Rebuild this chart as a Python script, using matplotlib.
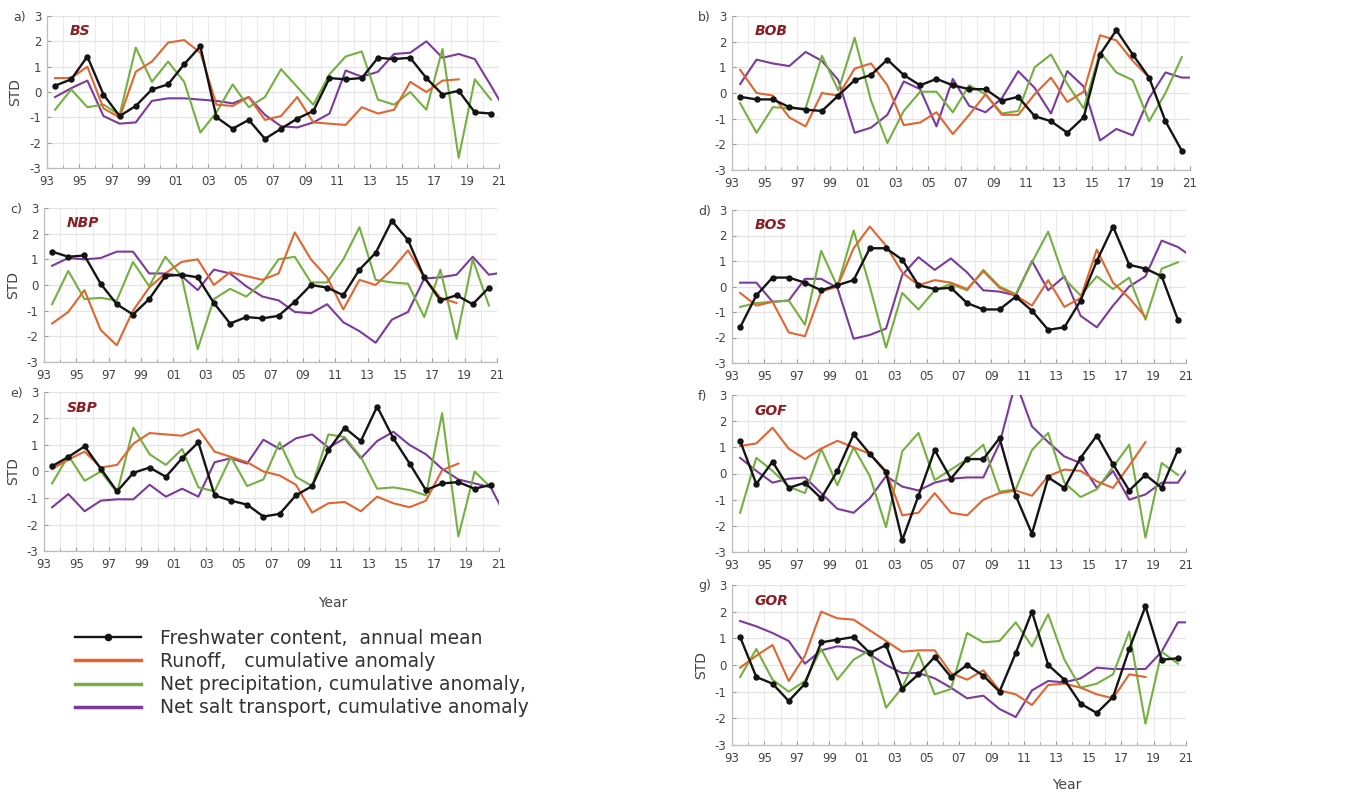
import numpy as np
import matplotlib
matplotlib.use("Agg")
import matplotlib.pyplot as plt
from matplotlib.lines import Line2D
from matplotlib.ticker import FuncFormatter, FixedLocator, MultipleLocator

plt.rcParams["axes.unicode_minus"] = False

# ---- data: standardized anomalies (STD), one value per year 1993-2020 ----
years = np.arange(1993, 2021)          # annual means, plotted at mid-year
runoff_years = np.arange(1993, 2019)   # runoff series ends in 2018
salt_years = np.arange(1993, 2022)     # salt transport runs to the end of the axis
tick_years = np.arange(1993, 2022, 2)

regions = ["BS", "BOB", "NBP", "BOS", "SBP", "GOF", "GOR"]
panel_letters = ["a)", "b)", "c)", "d)", "e)", "f)", "g)"]

fwc_bs = [0.25, 0.5, 1.4, -0.1, -0.95, -0.55, 0.1, 0.3, 1.1, 1.8, -1.0, -1.45, -1.1, -1.85,
          -1.45, -1.05, -0.75, 0.55, 0.5, 0.55, 1.35, 1.3, 1.35, 0.55, -0.1, 0.05, -0.8, -0.85]
run_bs = [0.55, 0.55, 1.0, -0.65, -1.0, 0.8, 1.2, 1.95, 2.05, 1.55, -0.5, -0.55, -0.2, -1.1,
          -0.95, -0.2, -1.2, -1.25, -1.3, -0.6, -0.85, -0.7, 0.4, 0.0, 0.45, 0.5]
prc_bs = [-0.7, 0.1, -0.6, -0.5, -0.9, 1.75, 0.4, 1.2, 0.4, -1.6, -0.8, 0.3, -0.6, -0.2,
          0.9, 0.2, -0.5, 0.7, 1.4, 1.6, -0.3, -0.5, 0.0, -0.7, 1.7, -2.6, 0.5, -0.3]
slt_bs = [-0.2, 0.15, 0.45, -0.95, -1.25, -1.2, -0.35, -0.25, -0.25, -0.3, -0.35, -0.45,
          -0.2, -0.9, -1.35, -1.4, -1.2, -0.85, 0.85, 0.6, 0.8, 1.5, 1.55, 2.0, 1.35, 1.5,
          1.3, 0.25, -0.85]

fwc_bob = [-0.15, -0.25, -0.25, -0.55, -0.65, -0.7, -0.1, 0.5, 0.7, 1.3, 0.7, 0.3, 0.55, 0.3,
           0.15, 0.15, -0.3, -0.15, -0.9, -1.1, -1.55, -0.95, 1.5, 2.45, 1.5, 0.6, -1.1, -2.25]
run_bob = [0.9, 0.0, -0.1, -0.95, -1.3, 0.0, -0.1, 0.95, 1.15, 0.3, -1.25, -1.15, -0.75,
           -1.6, -0.85, -0.05, -0.85, -0.85, -0.05, 0.6, -0.35, 0.05, 2.25, 2.05, 1.25, 0.6]
prc_bob = [-0.4, -1.55, -0.55, -0.6, -0.6, 1.45, 0.1, 2.15, -0.3, -1.95, -0.7, 0.05, 0.05,
           -0.75, 0.3, -0.05, -0.8, -0.7, 1.0, 1.5, 0.35, -0.6, 1.6, 0.8, 0.5, -1.1, 0.0, 1.4]
slt_bob = [0.35, 1.3, 1.15, 1.05, 1.6, 1.25, 0.5, -1.55, -1.35, -0.85, 0.45, 0.15, -1.3,
           0.55, -0.5, -0.75, -0.2, 0.85, 0.2, -0.8, 0.85, 0.25, -1.85, -1.4, -1.65, -0.2,
           0.8, 0.6, 0.6]

fwc_nbp = [1.3, 1.1, 1.15, 0.05, -0.75, -1.15, -0.55, 0.35, 0.4, 0.3, -0.7, -1.5, -1.25, -1.3,
           -1.2, -0.65, 0.0, -0.1, -0.4, 0.6, 1.25, 2.5, 1.75, 0.3, -0.6, -0.4, -0.75, -0.1]
run_nbp = [-1.5, -1.05, -0.2, -1.75, -2.35, -1.0, -0.1, 0.45, 0.9, 1.0, 0.0, 0.5, 0.35, 0.2,
           0.45, 2.05, 1.0, 0.3, -0.95, 0.2, 0.0, 0.6, 1.35, 0.3, -0.5, -0.7]
prc_nbp = [-0.75, 0.55, -0.55, -0.5, -0.6, 0.9, -0.05, 1.1, 0.35, -2.5, -0.55, -0.15, -0.45,
           0.1, 1.0, 1.1, 0.1, 0.1, 1.0, 2.25, 0.2, 0.1, 0.05, -1.25, 0.6, -2.1, 1.0, -0.8]
slt_nbp = [0.75, 1.05, 1.0, 1.05, 1.3, 1.3, 0.45, 0.45, 0.35, -0.2, 0.6, 0.45, -0.05, -0.45,
           -0.6, -1.05, -1.1, -0.75, -1.45, -1.8, -2.25, -1.35, -1.05, 0.25, 0.3, 0.4, 1.1,
           0.4, 0.5]

fwc_bos = [-1.6, -0.35, 0.35, 0.35, 0.15, -0.15, 0.05, 0.25, 1.5, 1.5, 1.05, 0.05, -0.1, -0.05,
           -0.65, -0.9, -0.9, -0.4, -0.95, -1.7, -1.6, -0.55, 1.0, 2.35, 0.85, 0.7, 0.4, -1.3]
run_bos = [-0.25, -0.75, -0.6, -1.8, -1.95, -0.2, 0.0, 1.5, 2.35, 1.6, 0.55, 0.05, 0.25, 0.15,
           -0.1, 0.6, -0.05, -0.35, -0.75, 0.25, -0.8, -0.45, 1.45, 0.15, -0.45, -1.2]
prc_bos = [-0.8, -0.65, -0.6, -0.55, -1.5, 1.4, 0.0, 2.2, 0.0, -2.4, -0.25, -0.9, -0.15, 0.1,
           -0.15, 0.65, 0.0, -0.3, 0.95, 2.15, 0.3, -0.35, 0.4, -0.1, 0.35, -1.3, 0.7, 0.95]
slt_bos = [0.15, 0.15, -0.6, -0.55, 0.3, 0.3, -0.05, -2.05, -1.9, -1.65, 0.45, 1.15, 0.65,
           1.1, 0.55, -0.15, -0.2, -0.35, 1.0, -0.15, 0.4, -1.15, -1.6, -0.75, 0.0, 0.4, 1.8,
           1.55, 1.1]

fwc_sbp = [0.2, 0.55, 0.95, 0.1, -0.75, -0.05, 0.15, -0.2, 0.5, 1.1, -0.9, -1.1, -1.25, -1.7,
           -1.6, -0.9, -0.55, 0.8, 1.65, 1.15, 2.45, 1.25, 0.3, -0.7, -0.45, -0.4, -0.65, -0.5]
run_sbp = [0.1, 0.45, 0.75, 0.15, 0.25, 1.05, 1.45, 1.4, 1.35, 1.6, 0.75, 0.55, 0.35, 0.0,
           -0.15, -0.5, -1.55, -1.2, -1.15, -1.5, -0.95, -1.2, -1.35, -1.1, 0.05, 0.3]
prc_sbp = [-0.45, 0.6, -0.35, 0.0, -0.8, 1.65, 0.65, 0.25, 0.85, -0.6, -0.75, 0.55, -0.55,
           -0.3, 1.1, -0.2, -0.55, 1.4, 1.3, 0.55, -0.65, -0.6, -0.7, -0.9, 2.2, -2.45, 0.0, -0.6]
slt_sbp = [-1.35, -0.85, -1.5, -1.1, -1.05, -1.05, -0.5, -0.95, -0.65, -0.95, 0.35, 0.5, 0.3,
           1.2, 0.85, 1.25, 1.4, 0.9, 1.25, 0.5, 1.15, 1.5, 1.0, 0.65, 0.1, -0.3, -0.45, -0.6,
           -1.8]

fwc_gof = [1.25, -0.4, 0.45, -0.55, -0.35, -0.95, 0.1, 1.5, 0.75, 0.05, -2.55, -0.85, 0.9, -0.2,
           0.55, 0.55, 1.35, -0.85, -2.3, -0.15, -0.55, 0.6, 1.45, 0.35, -0.65, -0.05, -0.55, 0.9]
run_gof = [1.05, 1.15, 1.75, 0.95, 0.55, 0.95, 1.25, 1.0, 0.75, 0.1, -1.6, -1.5, -0.75, -1.5,
           -1.6, -1.0, -0.75, -0.65, -0.85, -0.1, 0.15, 0.1, -0.3, -0.55, 0.3, 1.2]
prc_gof = [-1.5, 0.6, 0.1, -0.5, -0.75, 0.95, -0.45, 1.0, -0.1, -2.05, 0.85, 1.55, -0.25, 0.15,
           0.55, 1.1, -0.7, -0.6, 0.9, 1.55, -0.35, -0.9, -0.6, 0.25, 1.1, -2.45, 0.4, -0.05]
slt_gof = [0.6, 0.1, -0.35, -0.2, -0.15, -0.75, -1.35, -1.5, -0.95, -0.1, -0.5, -0.65, -0.35,
           -0.2, -0.15, -0.15, 1.15, 3.5, 1.8, 1.2, 0.65, 0.4, -0.55, 0.1, -1.0, -0.8, -0.35,
           -0.35, 0.55]

fwc_gor = [1.05, -0.45, -0.7, -1.35, -0.7, 0.85, 0.95, 1.05, 0.45, 0.75, -0.9, -0.35, 0.3, -0.45,
           0.0, -0.4, -1.0, 0.45, 2.0, 0.0, -0.55, -1.45, -1.8, -1.2, 0.6, 2.2, 0.2, 0.25]
run_gor = [-0.1, 0.35, 0.75, -0.6, 0.35, 2.0, 1.75, 1.7, 1.3, 0.9, 0.5, 0.55, 0.55, -0.3,
           -0.55, -0.2, -0.95, -1.1, -1.5, -0.75, -0.7, -0.85, -1.1, -1.25, -0.35, -0.45]
prc_gor = [-0.45, 0.6, -0.55, -1.0, -0.6, 0.6, -0.55, 0.2, 0.55, -1.6, -0.85, 0.45, -1.1, -0.9,
           1.2, 0.85, 0.9, 1.6, 0.7, 1.9, 0.2, -0.85, -0.7, -0.35, 1.25, -2.2, 0.5, 0.05]
slt_gor = [1.65, 1.45, 1.2, 0.9, 0.05, 0.55, 0.7, 0.65, 0.4, 0.0, -0.3, -0.3, -0.5, -0.85,
           -1.25, -1.15, -1.65, -1.95, -0.95, -0.6, -0.65, -0.5, -0.1, -0.15, -0.15, -0.15,
           0.5, 1.6, 1.6]

fwc = [fwc_bs, fwc_bob, fwc_nbp, fwc_bos, fwc_sbp, fwc_gof, fwc_gor]
runoff = [run_bs, run_bob, run_nbp, run_bos, run_sbp, run_gof, run_gor]
precip = [prc_bs, prc_bob, prc_nbp, prc_bos, prc_sbp, prc_gof, prc_gor]
salt = [slt_bs, slt_bob, slt_nbp, slt_bos, slt_sbp, slt_gof, slt_gor]

legend_labels = ["Freshwater content,  annual mean",
                 "Runoff,   cumulative anomaly",
                 "Net precipitation, cumulative anomaly,",
                 "Net salt transport, cumulative anomaly"]

# ---- styling ----
C_FWC = "#141414"
C_RUN = "#e2652f"
C_PRC = "#74b040"
C_SLT = "#7b3a9c"
C_REGION = "#8c1c24"
C_TEXT = "#444444"
W, H = 1359, 794

# axes boxes in pixels: (left, top, right, bottom)
boxes = [(47, 16, 499, 168), (732, 16, 1190, 170),
         (44, 208, 497, 362), (732, 210, 1186, 363),
         (44, 392, 499, 551), (732, 395, 1186, 552),
         (732, 585, 1186, 745)]
with_std = [True, False, True, False, True, False, True]

fig = plt.figure(figsize=(W / 100, H / 100), dpi=100)


def px_axes(l, t, r, b):
    return fig.add_axes([l / W, 1 - b / H, (r - l) / W, (b - t) / H])


for k, (l, t, r, b) in enumerate(boxes):
    ax = px_axes(l, t, r, b)
    ax.plot(salt_years + 0.5, salt[k], color=C_SLT, lw=1.5, zorder=3)
    ax.plot(years + 0.5, precip[k], color=C_PRC, lw=1.5, zorder=3)
    ax.plot(runoff_years + 0.5, runoff[k], color=C_RUN, lw=1.5, zorder=3)
    ax.plot(years + 0.5, fwc[k], color=C_FWC, lw=1.7, marker="o", ms=3.6, zorder=4)

    ax.set_xlim(1993, 2021)
    ax.set_ylim(-3, 3)
    ax.xaxis.set_major_locator(FixedLocator(tick_years))
    ax.xaxis.set_minor_locator(MultipleLocator(1))
    ax.xaxis.set_major_formatter(FuncFormatter(lambda v, p: f"{int(round(v)) % 100:02d}"))
    ax.yaxis.set_major_locator(MultipleLocator(1))
    ax.grid(True, which="major", axis="y", color="#e4e4e4", lw=0.9)
    ax.grid(True, which="both", axis="x", color="#ececec", lw=0.8)
    ax.set_axisbelow(True)
    for s in ("top", "right"):
        ax.spines[s].set_visible(False)
    for s in ("left", "bottom"):
        ax.spines[s].set_color("#bdbdbd")
        ax.spines[s].set_linewidth(0.9)
    ax.tick_params(which="both", direction="in", colors="#9a9a9a", length=3,
                   labelcolor=C_TEXT, labelsize=8.5, pad=4)
    ax.tick_params(axis="x", which="major", pad=5)
    ax.tick_params(which="minor", length=2)

    ax.text(0.05, 0.9, regions[k], transform=ax.transAxes, fontsize=10,
            fontweight="bold", fontstyle="italic", color=C_REGION, va="center")
    fig.text((l - 34) / W, 1 - (t + 1) / H, panel_letters[k], fontsize=9,
             color=C_TEXT, va="center", ha="left")
    if with_std[k]:
        ax.set_ylabel("STD", fontsize=10, color=C_TEXT, labelpad=5)

fig.text(333 / W, 1 - 603 / H, "Year", fontsize=10, color=C_TEXT, ha="center", va="center")
fig.text(1067 / W, 1 - 785 / H, "Year", fontsize=10, color=C_TEXT, ha="center", va="center")

handles = [Line2D([], [], color=C_FWC, lw=1.7, marker="o", ms=4.5),
           Line2D([], [], color=C_RUN, lw=2.5),
           Line2D([], [], color=C_PRC, lw=2.5),
           Line2D([], [], color=C_SLT, lw=2.5)]
leg = fig.legend(handles, legend_labels, loc="upper left",
                 bbox_to_anchor=(58 / W, 1 - 612 / H), frameon=False,
                 fontsize=13.5, handlelength=3.5, handletextpad=1.05,
                 labelspacing=0.22, numpoints=1)
for txt in leg.get_texts():
    txt.set_color("#333333")

fig.savefig("out.png", dpi=100)
